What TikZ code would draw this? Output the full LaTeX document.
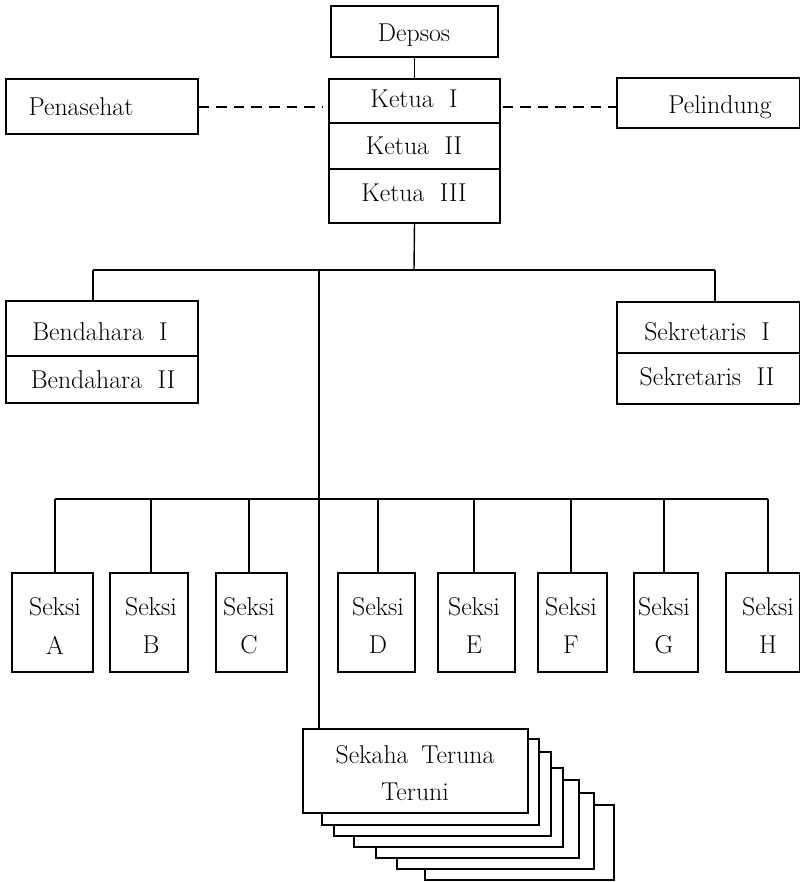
\documentclass[tikz,border=0pt]{standalone}
\usetikzlibrary{fit}
\begin{document}
\begin{tikzpicture}[x=0.03cm,y=-0.03cm,
  box/.style={draw, line width=1.2pt, fill=white, inner sep=0pt},
  txt/.style={inner sep=0pt, align=center, font=\fontsize{22}{32}\selectfont},
  link/.style={line width=1.2pt},
  dashlink/.style={line width=1.2pt, dash pattern=on 9pt off 6pt}]
\useasboundingbox (0,0) rectangle (801,882);

% --- top: Depsos and the chairmen ---
\node[box, fit={(331,6) (498,57)}] (depsos) {};
\node[box, fit={(329,79) (500,123)}] (k1) {};
\node[box, fit={(329,123) (500,169)}] (k2) {};
\node[box, fit={(329,169) (500,223)}] (k3) {};
\node[txt] (tdepsos) at (414,35) {Depsos};
\node[txt] (tk1) at (414,99) {Ketua\hspace{0.6em}I};
\node[txt] (tk2) at (414,146) {Ketua\hspace{0.6em}II};
\node[txt] (tk3) at (414,193) {Ketua\hspace{0.6em}III};

\node[box, fit={(6,79) (198,134)}] (penasehat) {};
\node[txt] (tpen) at (81,107) {Penasehat};
\node[box, fit={(617,78) (799.5,128)}] (pelindung) {};
\node[txt] (tpel) at (720,107) {Pelindung};

\draw[link] (depsos) -- (k1);
\draw[dashlink] (penasehat.east |- tpen) -- ++(124,0);
\draw[dashlink] (k1.east |- tpen) ++(2,0) -- (pelindung.west |- tpen);

% --- treasurers and secretaries ---
\node[box, fit={(6,301) (198,356)}] (b1) {};
\node[box, fit={(6,356) (198,403)}] (b2) {};
\node[box, fit={(617,302) (799.5,353)}] (s1) {};
\node[box, fit={(617,353) (799.5,404)}] (s2) {};
\node[txt] (tb1) at (100,332) {Bendahara\hspace{0.6em}I};
\node[txt] (tb2) at (103,380) {Bendahara\hspace{0.6em}II};
\node[txt] (ts1) at (707,332) {Sekretaris\hspace{0.6em}I};
\node[txt] (ts2) at (707,377) {Sekretaris\hspace{0.6em}II};

\coordinate (jK) at (414,270);
\coordinate (jB) at (93,270);
\coordinate (jS) at (715,270);
\coordinate (jC) at (319,270);
\draw[link] (k3.south) -- (jK);
\draw[link] (jB) -- (jS);
\draw[link] (jB) -- (jB |- b1.north);
\draw[link] (jS) -- (jS |- s1.north);

% --- sections ---
\foreach \n/\xa/\xb/\c in {A/12/93/55, B/110/188/151, C/216/287/249, D/338/415/378,
                            E/438/515/474, F/538/607/571, G/634/698/664, H/726/799.5/768}{
  \node[box, fit={(\xa,573) (\xb,672)}] (seksi\n) {};
  \node[txt] (tseksi\n) at (\c,607) {Seksi};
  \node[txt] (tlet\n) at (\c,645) {\n};
  \coordinate (js\n) at (\c,499);
  \draw[link] (js\n) -- (js\n |- seksi\n.north);
}
\draw[link] (jsA) -- (jsH);

% --- stacked youth groups ---
\node[box, fit={(425,805) (614,880)}] (sk6) {};
\node[box, fit={(397,793) (594,869)}] (sk5) {};
\node[box, fit={(376,780) (579,858)}] (sk4) {};
\node[box, fit={(354,768) (563,847)}] (sk3) {};
\node[box, fit={(334,752) (551,836)}] (sk2) {};
\node[box, fit={(322,739) (539,825)}] (sk1) {};
\node[box, fit={(303,729) (528,813)}] (sk0) {};
\node[txt] (tsk0a) at (415,755) {Sekaha\hspace{0.5em}Teruna};
\node[txt] (tsk0b) at (415,792) {Teruni};

\draw[link] (jC) -- (jC |- sk0.north);
\end{tikzpicture}
\end{document}
